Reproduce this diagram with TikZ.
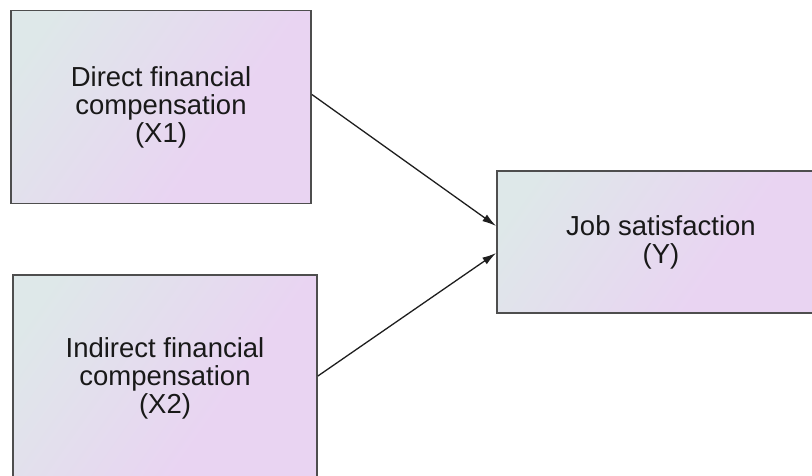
\documentclass[tikz,border=0pt]{standalone}
\usepackage{fontspec}
\setmainfont{Liberation Sans}
\usetikzlibrary{arrows.meta}

% soft grey-cyan to lavender fill used by every box
\definecolor{fillA}{HTML}{DEE8E9}
\definecolor{fillB}{HTML}{E9D4F2}
\definecolor{edge}{HTML}{4E4E4E}
\definecolor{link}{HTML}{1E1E1E}
\pgfdeclarehorizontalshading{boxfill}{100bp}{%
  color(0bp)=(fillA); color(22bp)=(fillA); color(62bp)=(fillB); color(100bp)=(fillB)}

\tikzset{
  varbox/.style={draw=edge, line width=1.8pt, shading=boxfill, shading angle=-35,
    align=center, font=\fontsize{27.5}{28}\selectfont, text=black!90, inner sep=0pt},
  link/.style={draw=link, line width=1.3pt, -{Latex[length=14pt,width=8pt]}}
}

\begin{document}
\begin{tikzpicture}[x=1pt, y=-1pt]
  \useasboundingbox (0,0) rectangle (812,476);
  \clip (0,0) rectangle (812,476);

  \node[varbox, minimum width=300pt, minimum height=193pt] (x1) at (161,107)
    {Direct financial\\compensation\\(X1)};
  \node[varbox, minimum width=304pt, minimum height=206pt] (x2) at (165,378)
    {Indirect financial\\compensation\\(X2)};
  \node[varbox, minimum width=328pt, minimum height=142pt] (y) at (661,242)
    {Job satisfaction\\(Y)};

  \draw[link] ([yshift=12.5pt]x1.east) -- ([yshift=16pt]y.west);
  \draw[link] ([yshift=2pt]x2.east) -- ([yshift=-11pt]y.west);
\end{tikzpicture}
\end{document}
